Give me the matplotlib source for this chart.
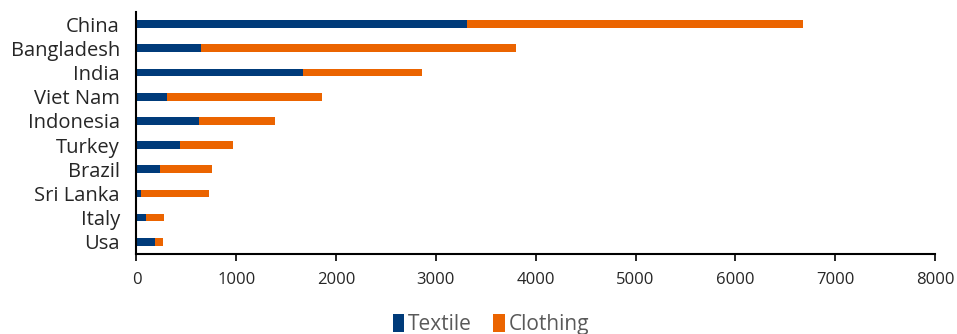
import matplotlib.pyplot as plt
import numpy as np

# values
countries = ['China', 'Bangladesh', 'India', 'Viet Nam', 'Indonesia',
             'Turkey', 'Brazil', 'Sri Lanka', 'Italy', 'Usa']
textile = [3313, 651, 1666, 307, 624, 434, 233, 43, 93, 190]
clothing = [3366, 3153, 1196, 1550, 765, 531, 526, 685, 178, 77]

navy = '#003B7A'
orange = '#EB6400'

plt.rcParams['font.family'] = ['Open Sans', 'DejaVu Sans']

fig = plt.figure(figsize=(9.57, 3.34), dpi=100)
ax = fig.add_axes([0.1426, 0.24, 0.8344, 0.724])

y = np.arange(len(countries))
ax.barh(y, textile, height=0.32, color=navy, label='Textile')
ax.barh(y, clothing, left=textile, height=0.32, color=orange, label='Clothing')

ax.set_yticks(y)
ax.set_yticklabels(countries, fontsize=14.5, color='#262626')
ax.set_ylim(len(countries) - 0.5, -0.5)
ax.tick_params(axis='y', length=0, pad=12)

ax.set_xlim(0, 8000)
ax.set_xticks(np.arange(0, 8001, 1000))
ax.tick_params(axis='x', direction='out', length=5, width=1.2, labelsize=12,
               labelcolor='#262626', pad=8)

for side in ['top', 'right']:
    ax.spines[side].set_visible(False)
for side in ['left', 'bottom']:
    ax.spines[side].set_linewidth(1.5)
    ax.spines[side].set_color('black')

leg = fig.legend(loc='lower center', bbox_to_anchor=(0.513, -0.06), ncol=2,
                 frameon=False, fontsize=15, handlelength=0.55, handleheight=0.9,
                 handletextpad=0.2, columnspacing=1.0)
for t in leg.get_texts():
    t.set_color('#595959')

fig.savefig('out.png', dpi=100)
